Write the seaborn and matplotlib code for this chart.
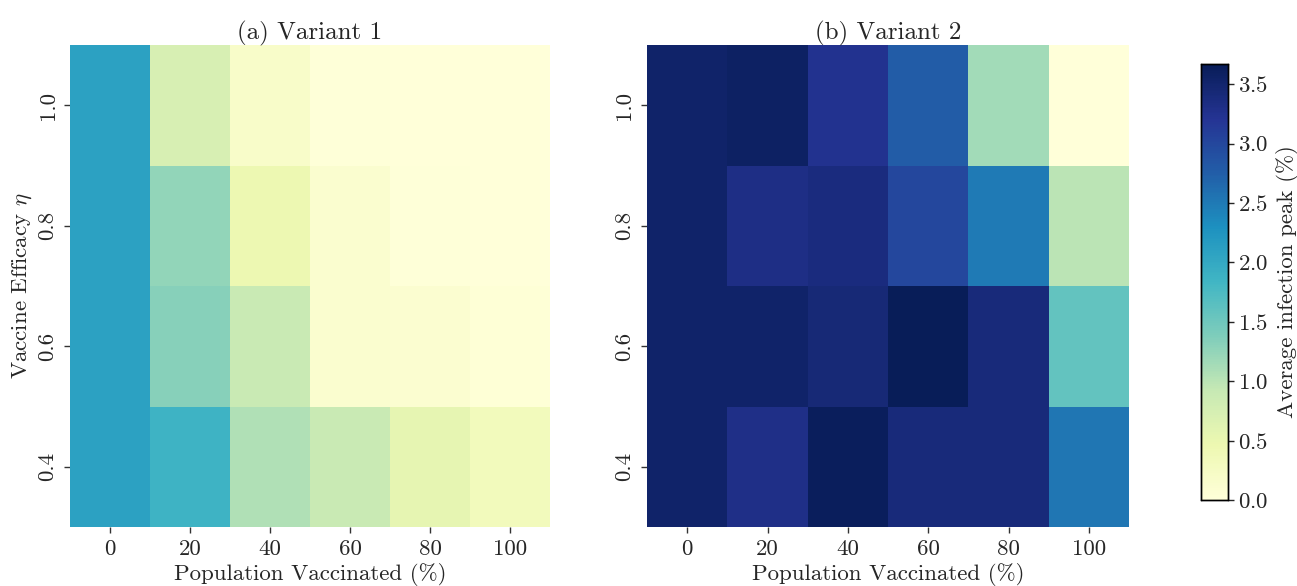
import numpy as np
import pandas as pd
import matplotlib
matplotlib.use("Agg")
import matplotlib.pyplot as plt
import seaborn as sns

sns.set_theme(style="white")
plt.rcParams['font.family'] = 'serif'
plt.rcParams['font.serif'] = ['cmr10', 'DejaVu Serif']
plt.rcParams['mathtext.fontset'] = 'cm'
plt.rcParams['axes.formatter.use_mathtext'] = True

vaccinated = [0, 20, 40, 60, 80, 100]
efficacy = [1.0, 0.8, 0.6, 0.4]

variant1 = [
    [2.10, 0.73, 0.20, 0.02, 0.01, 0.00],
    [2.10, 1.25, 0.45, 0.12, 0.02, 0.01],
    [2.10, 1.32, 0.90, 0.12, 0.11, 0.03],
    [2.10, 1.87, 1.07, 0.90, 0.55, 0.33],
]
variant2 = [
    [3.54, 3.57, 3.25, 2.77, 1.15, 0.00],
    [3.54, 3.32, 3.38, 3.00, 2.50, 1.00],
    [3.54, 3.54, 3.43, 3.67, 3.40, 1.58],
    [3.54, 3.30, 3.63, 3.40, 3.40, 2.53],
]
titles = ["(a) Variant 1", "(b) Variant 2"]

vmin = 0.0
vmax = max(np.max(variant1), np.max(variant2))

fig = plt.figure(figsize=(12.97, 5.86), dpi=100)
W, H = 1297, 586
ax1 = fig.add_axes([70 / W, 1 - 527 / H, 480 / W, 482 / H])
ax2 = fig.add_axes([647 / W, 1 - 527 / H, 482 / W, 482 / H])
cax = fig.add_axes([1201 / W, 1 - 500 / H, 27 / W, 436 / H])

fs = 16.5
for i, (ax, data, title) in enumerate(zip([ax1, ax2], [variant1, variant2], titles)):
    df = pd.DataFrame(data, index=efficacy, columns=vaccinated)
    sns.heatmap(df, ax=ax, cmap="YlGnBu", vmin=vmin, vmax=vmax,
                cbar=(i == 1), cbar_ax=cax if i == 1 else None,
                cbar_kws={"label": "Average infection peak (%)"} if i == 1 else {})
    ax.set_title(title, fontsize=18, pad=4)
    ax.set_xlabel("Population Vaccinated (%)", fontsize=fs, labelpad=3)
    ax.set_xticklabels([str(v) for v in vaccinated], rotation=0, fontsize=fs)
    ax.set_yticklabels([f"{v:.1f}" for v in efficacy], rotation=90, va="center", fontsize=fs)
    ax.tick_params(axis="both", length=4, width=1, color="#333333", bottom=True, left=True, pad=5)
    if i == 0:
        ax.set_ylabel(r"Vaccine Efficacy $\eta$", fontsize=fs, labelpad=3)
    else:
        ax.set_ylabel("")

cax.tick_params(labelsize=fs, length=4, width=1, right=True, pad=3)
cax.set_ylabel("Average infection peak (%)", fontsize=fs, labelpad=6)
for s in cax.spines.values():
    s.set_visible(True)
    s.set_color("black")
    s.set_linewidth(1)

fig.savefig("out.png", dpi=100)
